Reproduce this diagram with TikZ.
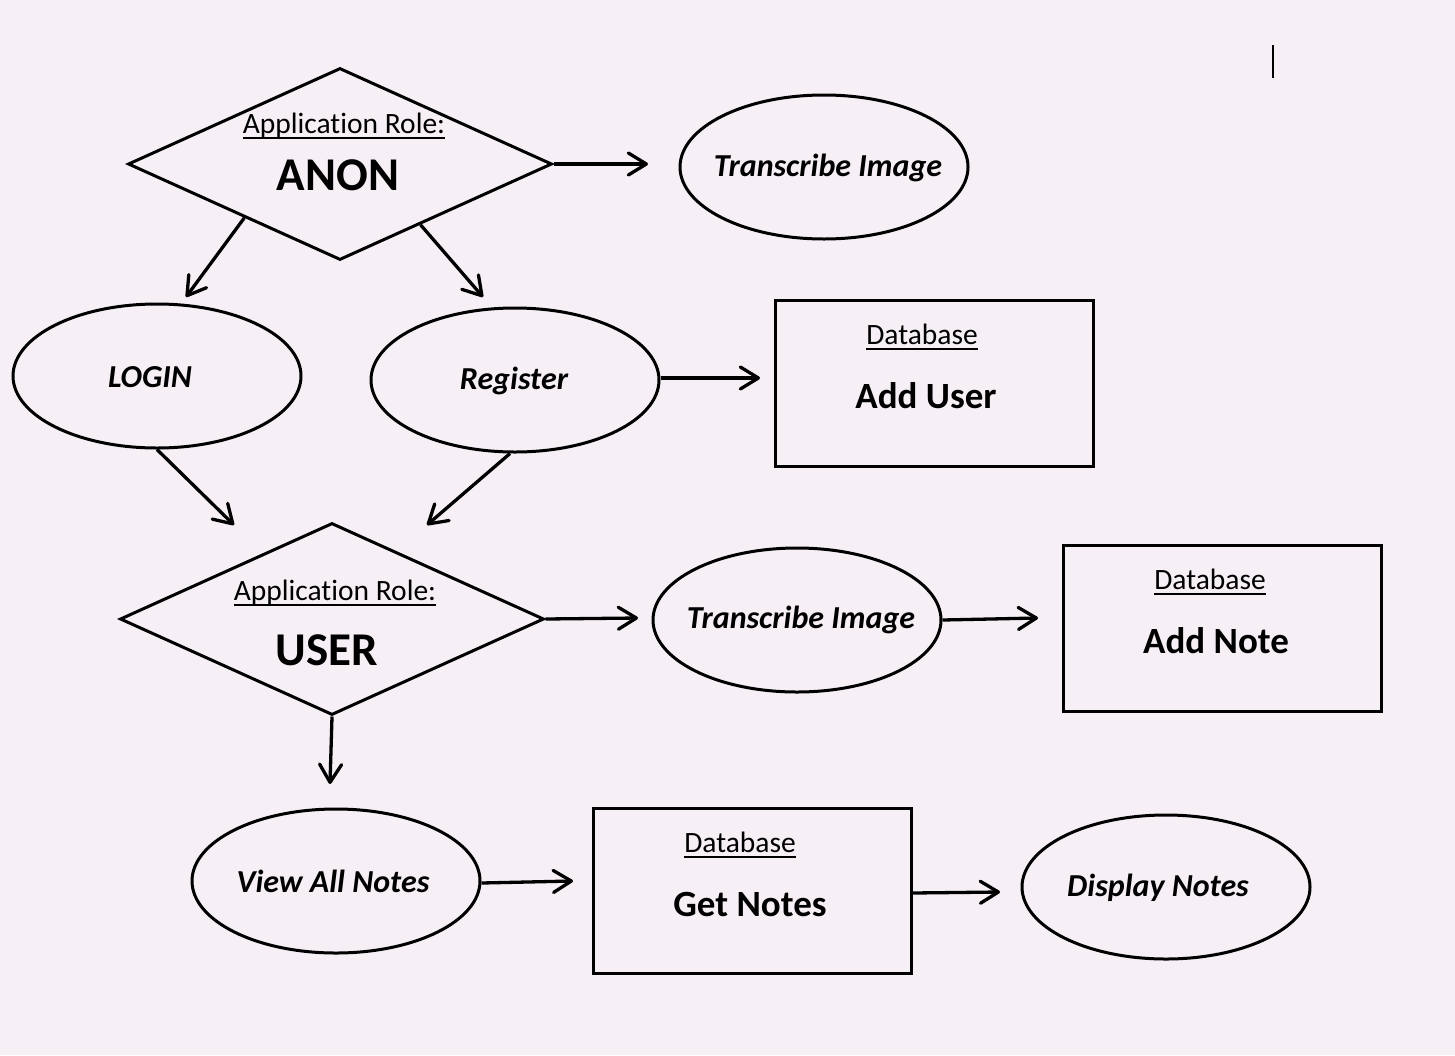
\documentclass[tikz,border=0pt]{standalone}
\usepackage{fontspec}
\setmainfont{Carlito}[Ligatures={NoCommon}]
\usetikzlibrary{shapes.geometric,arrows.meta,calc}
\definecolor{bg}{RGB}{246,240,246}
\newcommand\myul[1]{\leavevmode\setbox0=\hbox{#1}\rlap{\rule[-5pt]{\wd0}{2pt}}\box0}
\begin{document}
\begin{tikzpicture}[x=1pt,y=-1pt,
  shapeline/.style={draw=black, line width=3pt, inner sep=0pt},
  dia/.style={shapeline, diamond, minimum width=424pt, minimum height=192pt},
  ell/.style={shapeline, ellipse, minimum width=288pt, minimum height=144pt},
  elltxt/.style={inner sep=0pt, font=\fontsize{32}{38}\selectfont\bfseries\itshape},
  dbbox/.style={shapeline, rectangle, minimum width=318pt, minimum height=166pt},
  smalltxt/.style={inner sep=0pt, font=\fontsize{29.5}{34}\selectfont},
  bigtxt/.style={inner sep=0pt, font=\fontsize{47}{56}\selectfont\bfseries},
  midtxt/.style={inner sep=0pt, font=\fontsize{37}{44}\selectfont\bfseries},
  arr/.style={line width=3.3pt, -{Straight Barb[length=18pt,width=22pt,round]}}]
\fill[bg] (0,0) rectangle (1455,1055);
% cursor mark
\draw[line width=1.5pt] (1273,45) -- (1273,78);
% shapes
\node[dia] (anon) at (340,164) {};
\node[smalltxt] (anonlab) at (344,126) {\myul{Application Role:}};
\node[bigtxt] (anontxt) at (338,175) {ANON};
\node[ell] (ti1) at (824,167) {};
\node[elltxt] (ti1txt) at (828,168) {Transcribe Image};
\node[ell] (login) at (157,376) {};
\node[elltxt] (logintxt) at (150,377) {LOGIN};
\node[ell] (register) at (515,380) {};
\node[elltxt] (registertxt) at (514,381) {Register};
\node[dbbox] (adduser) at (934.5,383) {};
\node[smalltxt] (db1) at (922,337) {\myul{Database}};
\node[midtxt] (adduserTxt) at (926,396) {Add User};
\node[dia] (user) at (332,619) {};
\node[smalltxt] (userlab) at (335,593) {\myul{Application Role:}};
\node[bigtxt] (usertxt) at (327,650) {USER};
\node[ell] (ti2) at (797,620) {};
\node[elltxt] (ti2txt) at (801,620) {Transcribe Image};
\node[dbbox] (addnote) at (1222,628) {};
\node[smalltxt] (db2) at (1210,582) {\myul{Database}};
\node[midtxt] (addnoteTxt) at (1216,641) {Add Note};
\node[ell] (van) at (336,881) {};
\node[elltxt] (vantxt) at (333,881) {View All Notes};
\node[dbbox, minimum height=165pt] (getn) at (752,890.5) {};
\node[smalltxt] (db3) at (740,845) {\myul{Database}};
\node[midtxt] (getnTxt) at (750,904) {Get Notes};
\node[ell] (dn) at (1166,887) {};
\node[elltxt] (dntxt) at (1158,888) {Display Notes};
% arrow end points
\coordinate (e1) at (648,164);
\coordinate (e2) at (186,297);
\coordinate (e3) at (483,297);
\coordinate (e4) at (760,378);
\coordinate (e5) at (234,525);
\coordinate (e6) at (427,525);
\coordinate (e7) at (638,618);
\coordinate (e8) at (1038,618);
\coordinate (e9) at (330,784);
\coordinate (e10) at (573,881);
\coordinate (e11) at (1000,892);
% connectors
\draw[arr] (anon.east) -- (e1);
\draw[arr] ($(anon.west)!0.552!(anon.south)$) -- (e2);
\draw[arr] ($(anon.south)!0.377!(anon.east)$) -- (e3);
\draw[arr] ([yshift=2pt]register.east) -- (e4);
\draw[arr] (login.south) -- (e5);
\draw[arr] ([xshift=-5pt]register.south) -- (e6);
\draw[arr] (user.east) -- (e7);
\draw[arr] (ti2.east) -- (e8);
\draw[arr] (user.south) -- (e9);
\draw[arr] ([yshift=-2pt]van.east) -- (e10);
\draw[arr] ([yshift=-2.5pt]getn.east) -- (e11);
\end{tikzpicture}
\end{document}
